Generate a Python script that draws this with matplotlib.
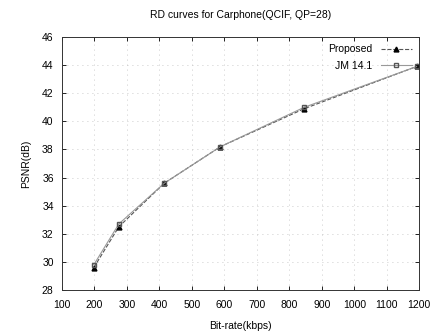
import matplotlib
matplotlib.use("Agg")
import matplotlib.pyplot as plt

plt.rcParams['font.family'] = ['Liberation Sans', 'DejaVu Sans']

# RD data
bitrate_prop = [198, 275, 415, 588, 846, 1192]
psnr_prop = [29.6, 32.5, 35.6, 38.2, 40.9, 43.9]
bitrate_jm = [198, 275, 415, 588, 846, 1192]
psnr_jm = [29.8, 32.7, 35.6, 38.2, 41.0, 43.9]

xticks = list(range(100, 1201, 100))
yticks = list(range(28, 47, 2))

fig = plt.figure(figsize=(4.32, 3.33), dpi=100)
ax = fig.add_axes([0.1435, 0.129, 0.827, 0.76])

ax.plot(bitrate_prop, psnr_prop, color='#555555', linestyle='--', linewidth=0.8,
        marker='^', markersize=3.5, markerfacecolor='black', markeredgecolor='black',
        label='Proposed')
ax.plot(bitrate_jm, psnr_jm, color='#999999', linestyle='-', linewidth=0.8,
        marker='s', markersize=3.5, markerfacecolor='none', markeredgecolor='#555555',
        label='JM 14.1')

ax.set_xlim(100, 1200)
ax.set_ylim(28, 46)
ax.set_xticks(xticks)
ax.set_yticks(yticks)
ax.tick_params(direction='in', labelsize=7.5, length=3, width=0.6, top=True, right=True)
ax.tick_params(axis='x', pad=7)
ax.tick_params(axis='y', pad=6)
ax.grid(True, linestyle=(0, (1, 5)), color='#bbbbbb', linewidth=0.6)
for s in ax.spines.values():
    s.set_linewidth(0.7)
    s.set_color('#333333')

ax.set_title('RD curves for Carphone(QCIF, QP=28)', fontsize=7.5, pad=14)
ax.set_xlabel('Bit-rate(kbps)', fontsize=7.5, labelpad=8)
ax.set_ylabel('PSNR(dB)', fontsize=7.5, labelpad=8)

ax.legend(loc='upper right', frameon=False, fontsize=7.5, markerfirst=False,
          handlelength=3, borderaxespad=0.3, labelspacing=0.6)

fig.savefig('out.png', dpi=100)
